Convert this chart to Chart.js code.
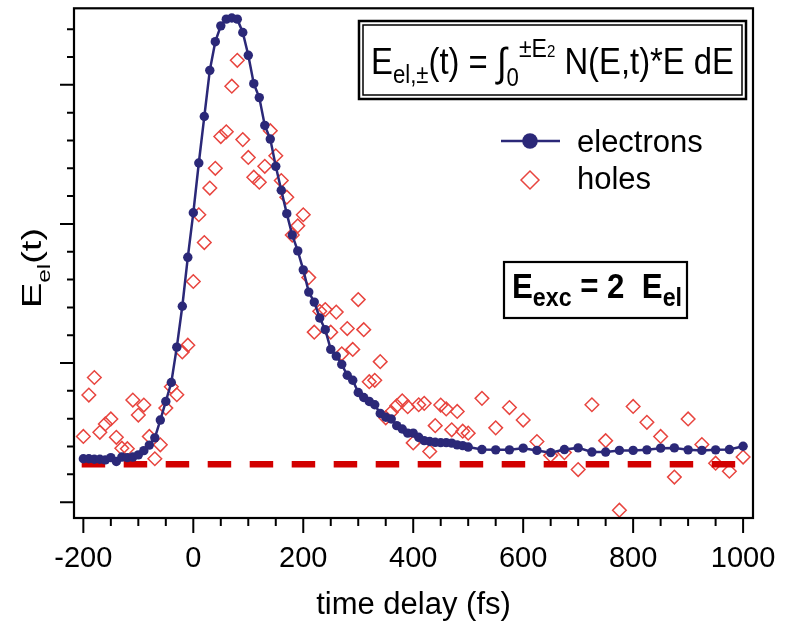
<!DOCTYPE html>
<html>
<head>
<meta charset="utf-8">
<script src="https://cdn.jsdelivr.net/npm/chart.js@4.4.1/dist/chart.umd.min.js"></script>
<style>
html,body{margin:0;padding:0;background:#fff;}
#wrap{width:792px;height:624px;position:relative;}
</style>
</head>
<body>
<div id="wrap"><canvas id="c" width="792" height="624"></canvas></div>
<script>
// ---------- data ----------
const timeDelay = [-200,-190,-180,-170,-160,-150,-140,-130,-120,-110,
  -100,-90,-80,-70,-60,-50,-40,-30,-20,-10,
  0,10,20,30,40,50,60,70,80,90,
  100,110,120,130,140,150,160,170,180,190,
  200,210,220,230,240,250,260,270,280,290,
  300,310,320,330,340,350,360,370,380,390,
  400,410,420,430,440,450,460,470,480,490,
  500,
  525,550,575,600,625,650,675,700,725,750,
  775,800,825,850,875,900,925,950,975,1000];

const electrons = [1.56,1.56,1.54,1.54,1.52,1.60,1.46,1.62,1.60,1.62,
  1.70,1.85,2.05,2.31,2.95,3.62,4.30,5.57,7.04,8.80,
  10.40,12.19,13.86,15.52,16.55,17.12,17.36,17.40,17.36,16.88,
  16.06,15.04,14.54,13.54,13.05,12.07,11.21,10.37,9.60,9.03,
  8.35,7.55,7.19,6.62,6.20,5.49,5.25,4.95,4.56,4.38,
  3.94,3.76,3.62,3.50,3.19,3.05,2.99,2.75,2.63,2.48,
  2.48,2.33,2.21,2.18,2.15,2.14,2.14,2.12,2.06,2.03,
  1.98,
  1.89,1.88,1.88,1.94,1.86,1.78,1.89,1.95,1.80,1.80,
  1.86,1.86,1.88,1.94,1.95,1.88,1.86,1.88,1.89,2.01];

const holes = [2.36,3.85,4.48,2.51,2.81,2.99,2.33,1.94,1.92,3.67,
  3.13,3.49,2.36,1.56,2.06,3.38,4.15,3.86,5.40,5.64,
  7.93,10.33,9.33,11.29,12.00,13.14,13.31,14.95,15.88,13.03,
  12.39,11.68,11.50,12.07,13.35,12.45,11.56,10.96,9.60,9.93,
  10.33,8.07,6.11,6.86,6.92,6.11,6.83,5.33,6.24,5.49,
  7.28,6.20,4.33,4.38,5.05,3.03,3.23,3.46,3.64,3.43,
  2.13,3.50,3.55,1.82,2.75,3.49,3.35,2.60,3.26,2.55,
  2.48,
  3.73,2.67,3.40,2.95,2.18,1.68,1.78,1.17,3.50,2.21,
  -0.29,3.44,2.87,2.36,0.90,2.99,2.07,1.40,1.11,1.62];

// dashed reference level
const baselineTimes = [-203, 986];
const baselineLevel = [1.36, 1.36];

// axes
const xRange = [-217, 1018];
const yRange = [-0.57, 17.75];
const xTickValues = [-200,-150,-100,-50,0,50,100,150,200,250,300,350,400,450,500,550,600,650,700,750,800,850,900,950,1000];
const xLabelValues = [-200,0,200,400,600,800,1000];
const yTickValues = [0,1,2,3,4,5,6,7,8,9,10,11,12,13,14,15,16,17];
const yMajorValues = [0,5,10,15];

// texts
const xTitle = 'time delay (fs)';
const seriesNames = ['electrons', 'holes'];

// ---------- styling ----------
const FONT = '"Liberation Sans", Arial, Helvetica, sans-serif';
const NAVY = '#2b2878';
const RED = '#e8453f';
const DASHRED = '#d20000';

function drawRuns(ctx, runs, x0, y0, targetWidth) {
  let w = 0;
  runs.forEach(r => { ctx.font = (r[3] ? 'bold ' : '') + r[1] + 'px ' + FONT; w += ctx.measureText(r[0]).width; });
  const sx = targetWidth ? targetWidth / w : 1;
  ctx.save();
  ctx.translate(x0, y0);
  ctx.scale(sx, 1);
  ctx.textAlign = 'left';
  ctx.textBaseline = 'alphabetic';
  let cx = 0;
  runs.forEach(r => {
    ctx.font = (r[3] ? 'bold ' : '') + r[1] + 'px ' + FONT;
    ctx.fillText(r[0], cx, r[2]);
    cx += ctx.measureText(r[0]).width;
  });
  ctx.restore();
}

const decorPlugin = {
  id: 'decor',
  afterDraw(chart) {
    const {ctx, chartArea: a, scales: {x, y}} = chart;
    ctx.save();
    ctx.strokeStyle = '#000';
    ctx.fillStyle = '#000';
    // frame
    ctx.lineWidth = 2.2;
    ctx.strokeRect(a.left, a.top, a.right - a.left, a.bottom - a.top);
    // ticks
    ctx.lineWidth = 2;
    ctx.beginPath();
    yTickValues.forEach(v => {
      const py = y.getPixelForValue(v);
      const len = yMajorValues.includes(v) ? 14 : 7;
      ctx.moveTo(a.left - len, py); ctx.lineTo(a.left, py);
    });
    xTickValues.forEach(v => {
      const px = x.getPixelForValue(v);
      const len = xLabelValues.includes(v) ? 15 : 8;
      ctx.moveTo(px, a.bottom); ctx.lineTo(px, a.bottom + len);
    });
    ctx.stroke();

    // y axis title  E_el(t), rotated
    ctx.save();
    ctx.translate(41, 268);
    ctx.rotate(-Math.PI / 2);
    drawRuns(ctx, [['E', 28, 0], ['el', 18, 9], ['(t)', 28, 0]], -40, 0, 80);
    ctx.restore();

    // formula box (double frame)
    ctx.lineWidth = 2.5;
    ctx.strokeRect(359, 21, 387, 78);
    ctx.lineWidth = 1.5;
    ctx.strokeRect(363, 25, 379, 70);
    drawRuns(ctx, [['E', 37, 0], ['el,\u00B1', 25, 9], ['(t) = ', 37, 0], ['\u222B', 40, 2],
      ['0', 25, 12], ['\u00B1E', 26, -17], ['2', 17, -17], [' N(E,t)*E dE', 37, 0]], 371, 74, 363);

    // legend
    ctx.strokeStyle = NAVY; ctx.lineWidth = 2.4;
    ctx.beginPath(); ctx.moveTo(501, 141); ctx.lineTo(560, 141); ctx.stroke();
    ctx.fillStyle = NAVY;
    ctx.beginPath(); ctx.arc(530, 141, 7.8, 0, Math.PI * 2); ctx.fill();
    ctx.strokeStyle = RED; ctx.lineWidth = 1.5;
    ctx.beginPath(); ctx.moveTo(521, 180); ctx.lineTo(530, 171); ctx.lineTo(539, 180); ctx.lineTo(530, 189); ctx.closePath(); ctx.stroke();
    ctx.fillStyle = '#000';
    ctx.font = '31px ' + FONT;
    ctx.textAlign = 'left'; ctx.textBaseline = 'alphabetic';
    ctx.fillText(seriesNames[0], 577, 152);
    ctx.fillText(seriesNames[1], 577, 189);

    // E_exc box
    ctx.strokeStyle = '#000'; ctx.lineWidth = 2.2;
    ctx.strokeRect(504, 262, 183, 56);
    drawRuns(ctx, [['E', 35, 0, true], ['exc', 26, 8, true], [' = 2  ', 35, 0, true], ['E', 35, 0, true], ['el', 26, 8, true]], 512, 298, 170);
    ctx.restore();
  }
};

new Chart(document.getElementById('c'), {
  type: 'line',
  data: {
    datasets: [
      {
        label: seriesNames[0],
        data: timeDelay.map((t, i) => ({x: t, y: electrons[i]})),
        borderColor: NAVY, backgroundColor: NAVY,
        borderWidth: 2.5, pointRadius: 4.7, pointBorderWidth: 0,
        pointBackgroundColor: NAVY, tension: 0, order: 1
      },
      {
        label: 'baseline',
        data: baselineTimes.map((t, i) => ({x: t, y: baselineLevel[i]})),
        borderColor: DASHRED, borderWidth: 6.5, borderDash: [23.5, 18.5],
        borderCapStyle: 'butt', pointRadius: 0, order: 2
      },
      {
        label: seriesNames[1],
        data: timeDelay.map((t, i) => ({x: t, y: holes[i]})),
        showLine: false, pointStyle: 'rectRot', pointRadius: 6.8,
        pointBorderColor: RED, pointBackgroundColor: 'rgba(0,0,0,0)',
        pointBorderWidth: 1.5, borderColor: RED, order: 3
      }
    ]
  },
  options: {
    responsive: false, animation: false, devicePixelRatio: 1,
    layout: {padding: {left: 0, right: 39, top: 5, bottom: 0}},
    plugins: {legend: {display: false}, tooltip: {enabled: false}},
    scales: {
      x: {
        type: 'linear', min: xRange[0], max: xRange[1],
        grid: {display: false, drawTicks: false}, border: {display: false},
        ticks: {
          autoSkip: false, maxRotation: 0, padding: 24, color: '#000',
          font: {family: FONT, size: 29},
          callback: v => xLabelValues.includes(v) ? String(v) : ''
        },
        afterBuildTicks: s => { s.ticks = xTickValues.map(v => ({value: v})); },
        afterFit: s => { s.height = 106; s.paddingLeft = 0; s.paddingRight = 0; },
        title: {display: true, text: xTitle, color: '#000', font: {family: FONT, size: 31}, padding: {top: 0, bottom: 0}}
      },
      y: {
        type: 'linear', min: yRange[0], max: yRange[1],
        grid: {display: false, drawTicks: false}, border: {display: false},
        ticks: {display: false},
        afterBuildTicks: s => { s.ticks = yTickValues.map(v => ({value: v})); },
        afterFit: s => { s.width = 74; s.paddingTop = 0; s.paddingBottom = 0; }
      }
    }
  },
  plugins: [decorPlugin]
});
</script>
</body>
</html>
